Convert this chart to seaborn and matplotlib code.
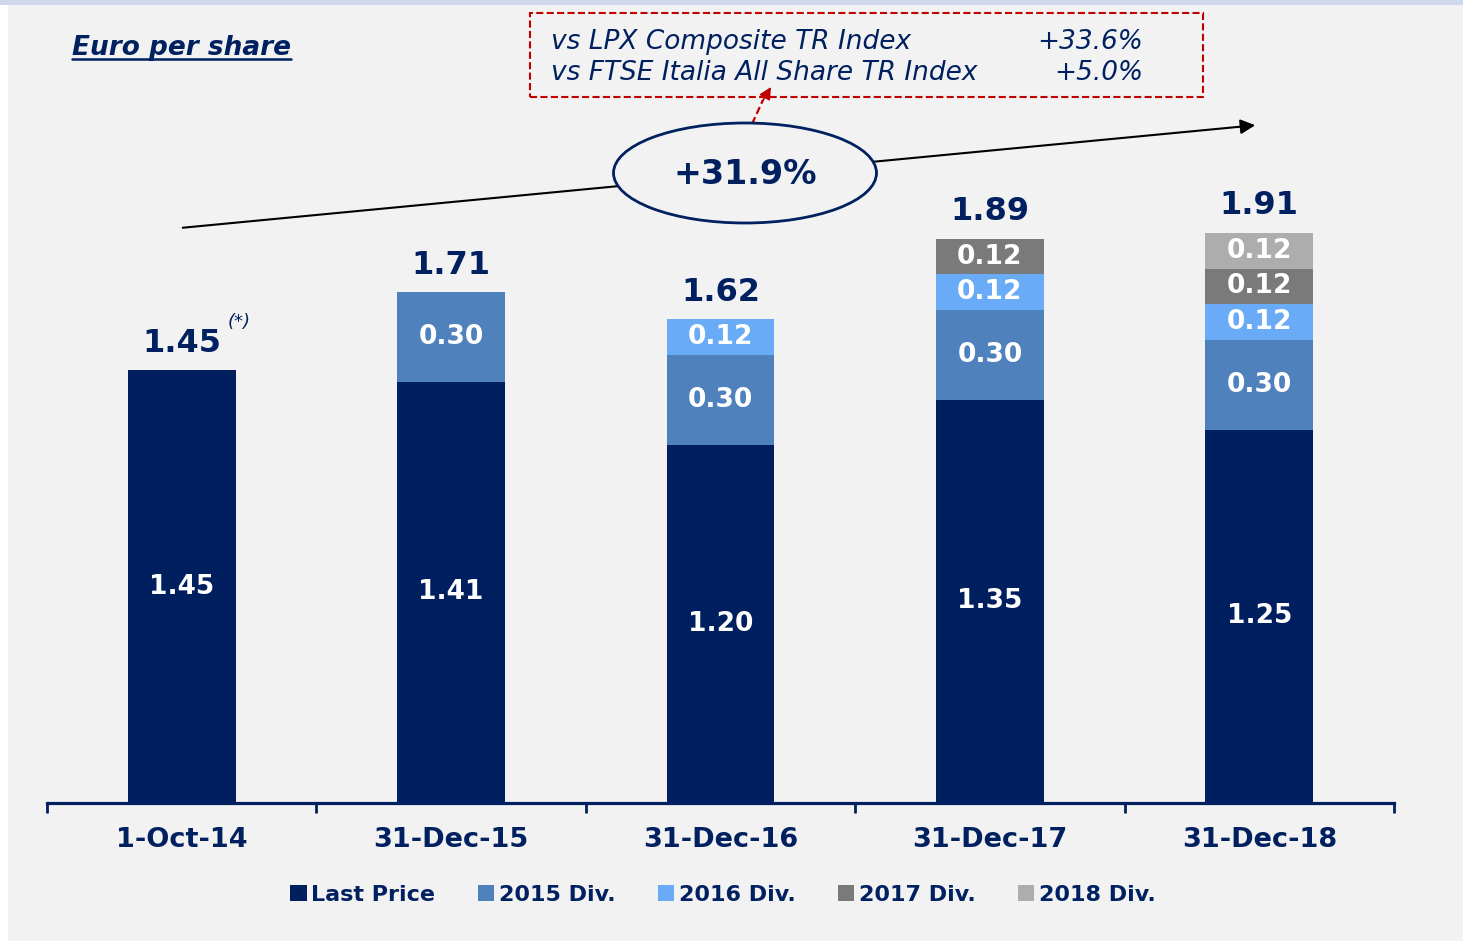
import matplotlib
matplotlib.use("Agg")
import matplotlib.pyplot as plt
import seaborn as sns
import pandas as pd
from matplotlib.patches import Rectangle, Ellipse, Patch
from matplotlib.lines import Line2D

# ---------------- data ----------------
dates = ["1-Oct-14", "31-Dec-15", "31-Dec-16", "31-Dec-17", "31-Dec-18"]
last_price = [1.45, 1.41, 1.20, 1.35, 1.25]
div_2015 = [0.00, 0.30, 0.30, 0.30, 0.30]
div_2016 = [0.00, 0.00, 0.12, 0.12, 0.12]
div_2017 = [0.00, 0.00, 0.00, 0.12, 0.12]
div_2018 = [0.00, 0.00, 0.00, 0.00, 0.12]
series_names = ["Last Price", "2015 Div.", "2016 Div.", "2017 Div.", "2018 Div."]
total_growth = "+31.9%"
bench_names = ["vs LPX Composite TR Index", "vs FTSE Italia All Share TR Index"]
bench_values = ["+33.6%", "+5.0%"]
title = "Euro per share"

# ---------------- style ----------------
NAVY = "#002060"
colors = ["#001f5f", "#4f81bd", "#6aabf7", "#7a7a7a", "#adadad"]
BG = "#f2f2f2"
RED = "#c00000"

sns.set_theme(style="white")
plt.rcParams["font.family"] = ["DejaVu Sans"]

W, H = 1463, 941
fig = plt.figure(figsize=(W / 100, H / 100), dpi=100)
fig.patch.set_facecolor("white")

def fx(x):
    return x / W

def fy(y):
    return 1 - y / H

# background panel + top band
fig.add_artist(Rectangle((fx(8), 0), 1 - fx(8), fy(5), transform=fig.transFigure,
                         facecolor=BG, edgecolor="none", zorder=-10))
fig.add_artist(Rectangle((0, fy(5)), 1, 5 / H, transform=fig.transFigure,
                         facecolor="#cdd8ea", edgecolor="none", zorder=-10))

# axes: baseline at y=803 px, 1 unit = 298.6 px
ax_bottom_px, ax_top_px = 803, 100
ax = fig.add_axes([fx(47), fy(ax_bottom_px), fx(1394) - fx(47), (ax_bottom_px - ax_top_px) / H])
ax.set_facecolor("none")

layers = [last_price, div_2015, div_2016, div_2017, div_2018]
cum = []
running = [0.0] * len(dates)
for layer in layers:
    running = [r + v for r, v in zip(running, layer)]
    cum.append(list(running))

# draw cumulative bars from top-most layer down
for i in range(len(layers) - 1, -1, -1):
    df = pd.DataFrame({"date": dates, "value": cum[i]})
    sns.barplot(data=df, x="date", y="value", order=dates, color=colors[i],
                saturation=1, width=0.4, errorbar=None, linewidth=0, ax=ax)

ax.set_xlim(-0.5, len(dates) - 0.5)
ax.set_ylim(0, (ax_bottom_px - ax_top_px) / 298.6)
ax.set_xlabel("")
ax.set_ylabel("")
ax.set_yticks([])
for s in ["left", "right", "top"]:
    ax.spines[s].set_visible(False)
ax.spines["bottom"].set_color(NAVY)
ax.spines["bottom"].set_linewidth(2.3)

ax.set_xticks(range(len(dates)))
ax.set_xticklabels(dates, fontsize=19.5, fontweight="bold", color=NAVY)
ax.tick_params(axis="x", which="major", bottom=True, length=0, pad=17)
ax.set_xticks([i - 0.5 for i in range(len(dates) + 1)], minor=True)
ax.tick_params(axis="x", which="minor", bottom=True, length=7, width=2,
               color=NAVY, direction="out")

# segment labels
for i, layer in enumerate(layers):
    for j, v in enumerate(layer):
        if v > 0:
            base = cum[i][j] - v
            ax.text(j, base + v / 2, f"{v:.2f}", ha="center", va="center",
                    fontsize=19, fontweight="bold", color="white", zorder=5)

# totals
totals = cum[-1]
for j, t in enumerate(totals):
    ax.text(j, t + 0.062, f"{t:.2f}", ha="center", va="baseline",
            fontsize=23, fontweight="bold", color=NAVY)
fig.text(fx(239), fy(322), "(*)", ha="center", va="center", fontsize=13,
         style="italic", color=NAVY)

# title with underline
fig.text(fx(72), fy(55), title, ha="left", va="baseline", fontsize=19,
         fontweight="bold", style="italic", color=NAVY)
fig.add_artist(Line2D([fx(72), fx(291)], [fy(59), fy(59)], transform=fig.transFigure,
                      color=NAVY, lw=1.8))

# growth arrow and ellipse
fig.add_artist(matplotlib.patches.FancyArrowPatch(
    (fx(180), fy(228)), (fx(1258), fy(125)), transform=fig.transFigure,
    arrowstyle="-|>", mutation_scale=22, color="black", lw=1.5, zorder=3))
fig.add_artist(Ellipse((fx(745), fy(173)), 263 / W, 100 / H, transform=fig.transFigure,
                       facecolor=BG, edgecolor=NAVY, lw=2, zorder=4))
fig.text(fx(745), fy(174), total_growth, ha="center", va="center", fontsize=24,
         fontweight="bold", color=NAVY, zorder=5)

# dashed red connector and box
DASH = (0, (3.4, 1.6))
fig.add_artist(Line2D([fx(752), fx(763)], [fy(124), fy(100)], transform=fig.transFigure,
                      color=RED, lw=1.6, ls=DASH))
fig.add_artist(matplotlib.patches.FancyArrowPatch(
    (fx(762), fy(102)), (fx(771), fy(87)), transform=fig.transFigure,
    arrowstyle="-|>", mutation_scale=18, color=RED, lw=1.2, shrinkA=0, shrinkB=0))
fig.add_artist(Rectangle((fx(530), fy(97)), (1203 - 530) / W, (97 - 13) / H,
                         transform=fig.transFigure, facecolor="none", edgecolor=RED,
                         lw=1.5, ls=DASH))
for k, (nm, val) in enumerate(zip(bench_names, bench_values)):
    yb = [49, 80][k]
    fig.text(fx(551), fy(yb), nm, ha="left", va="baseline", fontsize=19,
             style="italic", color=NAVY)
    fig.text(fx(1143), fy(yb), val, ha="right", va="baseline", fontsize=19,
             style="italic", color=NAVY)

# legend
handles = [Patch(facecolor=c, edgecolor="none") for c in colors]
leg = fig.legend(handles, series_names, loc="center", bbox_to_anchor=(fx(723), fy(895)),
                 ncol=5, frameon=False, handlelength=0.75, handleheight=0.75,
                 handletextpad=0.2, columnspacing=1.9,
                 prop={"size": 16, "weight": "bold"})
for t in leg.get_texts():
    t.set_color(NAVY)

fig.savefig("out.png", dpi=100, facecolor=fig.get_facecolor())
